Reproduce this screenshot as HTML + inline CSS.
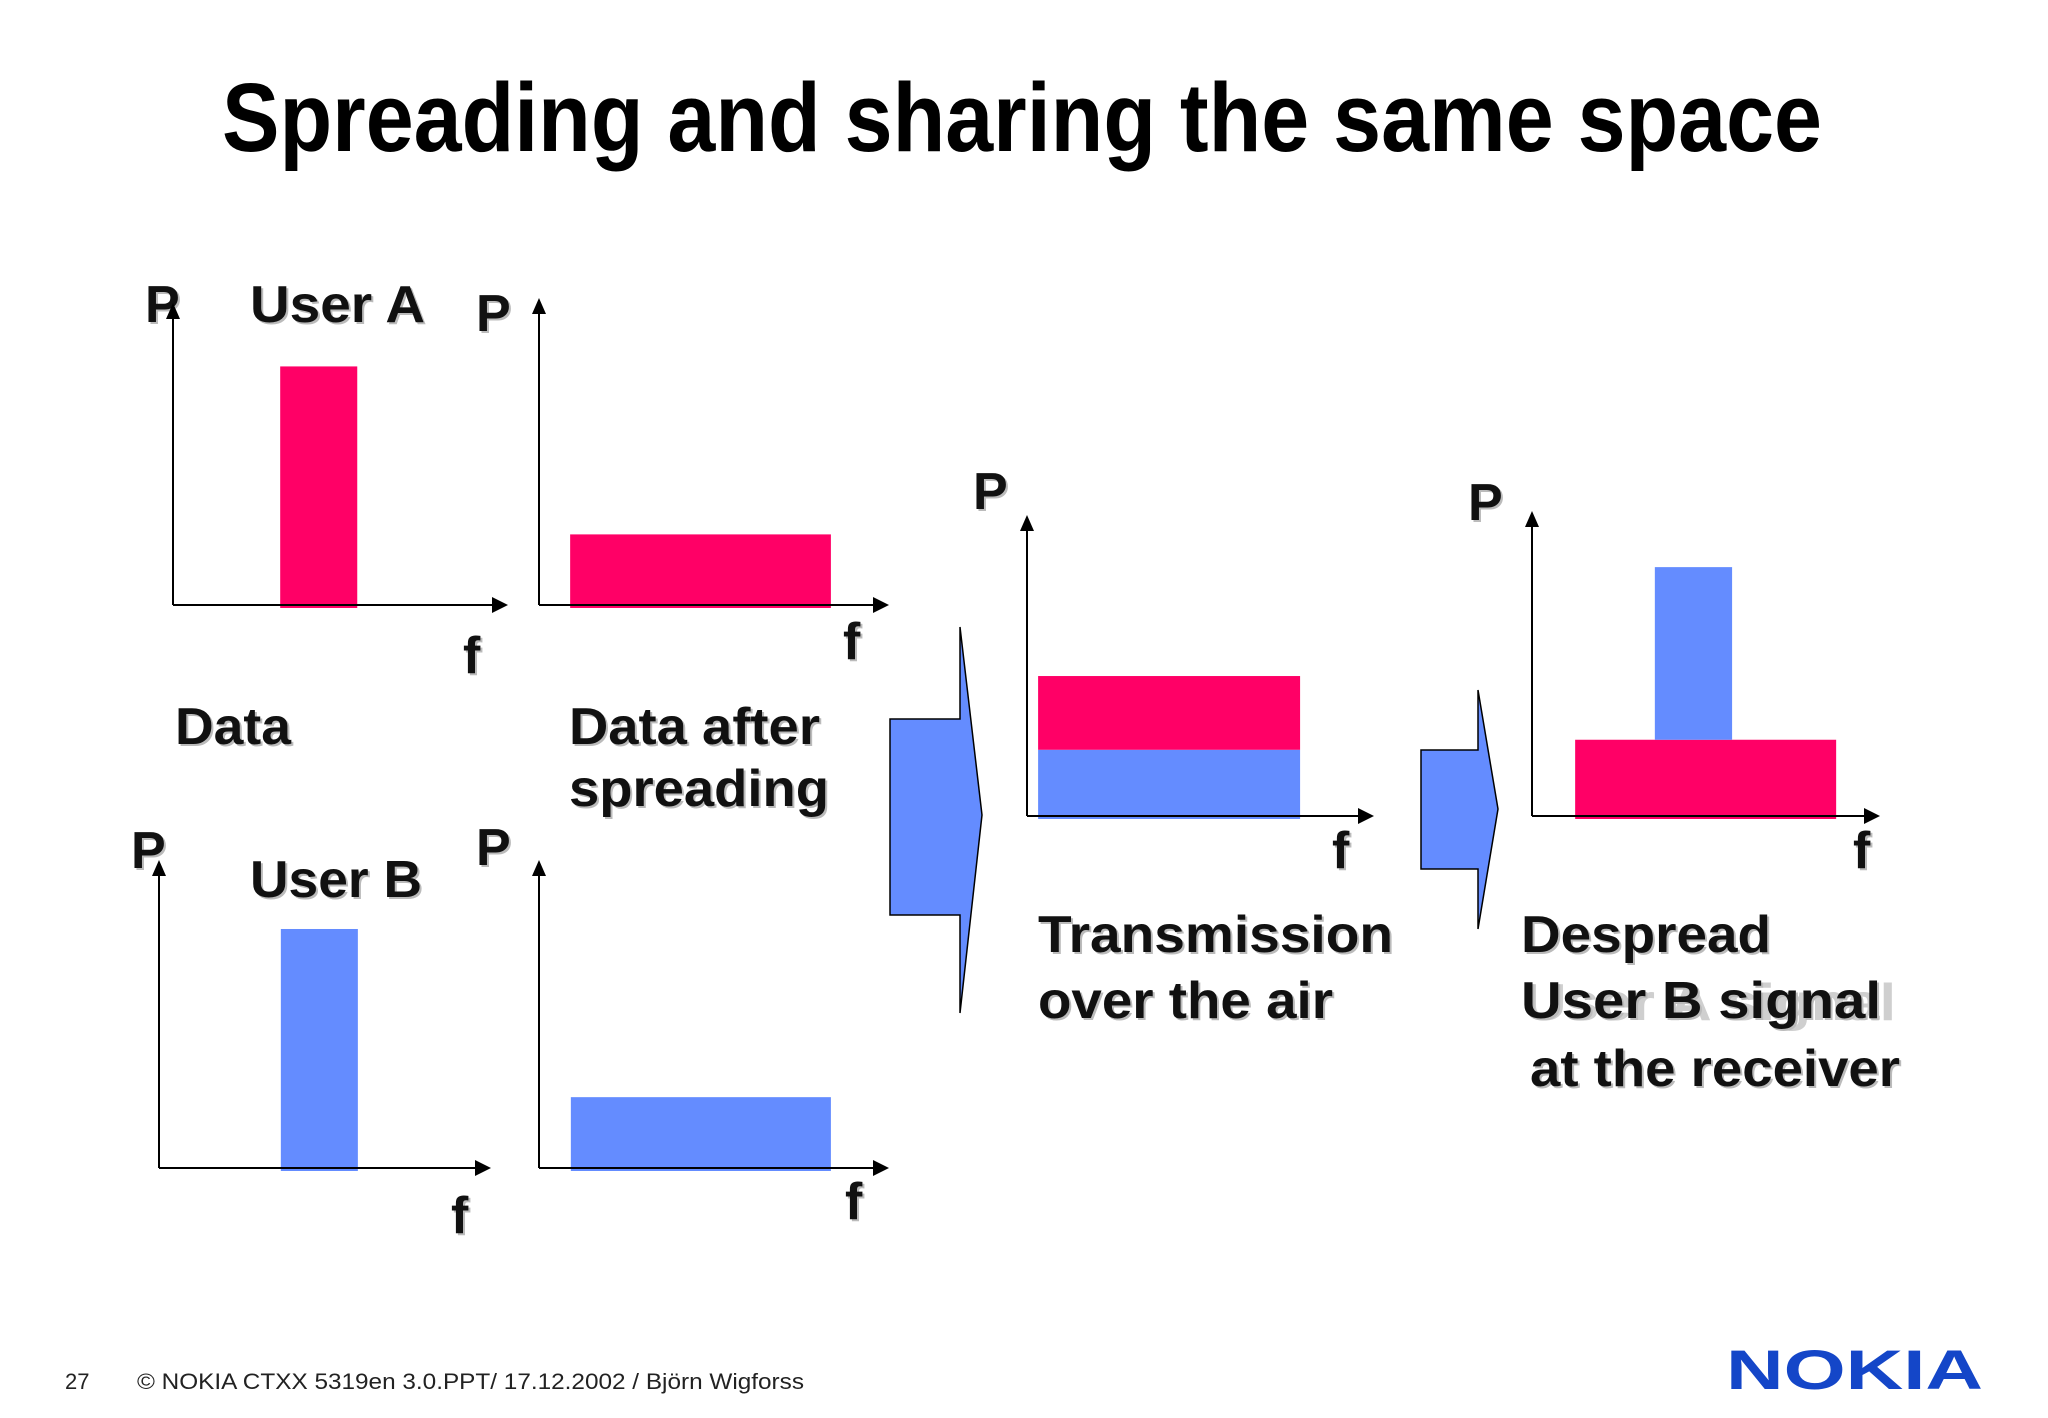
<!DOCTYPE html>
<html><head><meta charset="utf-8"><style>
html,body{margin:0;padding:0;background:#fff;}
svg{display:block;}
text{font-family:"Liberation Sans",Arial,sans-serif;}
</style></head><body>
<svg id="s" width="2048" height="1418" viewBox="0 0 2048 1418">
<rect x="0" y="0" width="2048" height="1418" fill="#fff"/>
<text x="222" y="151" font-size="97" font-weight="bold" textLength="1600" lengthAdjust="spacingAndGlyphs">Spreading and sharing the same space</text>
<text x="1524" y="1020" font-size="52" font-weight="bold" fill="#cfcfcf" textLength="372" lengthAdjust="spacingAndGlyphs">User A signal</text>
<g id="labels" font-weight="bold" font-size="52" fill="#111"></g>
<g id="panels"></g>
<polygon points="890,719 960,719 960,627 982,815 960,1013 960,915 890,915" fill="#648cff" stroke="#000" stroke-width="1.5"/>
<polygon points="1421,750 1478,750 1478,690 1498,809 1478,929 1478,869 1421,869" fill="#648cff" stroke="#000" stroke-width="1.5"/>
<text x="65" y="1389" font-size="22" fill="#222">27</text>
<text x="137" y="1389" font-size="22" fill="#222" textLength="667" lengthAdjust="spacingAndGlyphs">© NOKIA   CTXX 5319en 3.0.PPT/ 17.12.2002 / Björn Wigforss</text>
<text x="1726" y="1389" font-size="56" font-weight="bold" fill="#1446c8" textLength="257" lengthAdjust="spacingAndGlyphs">NOKIA</text>
</svg>
<script>
const NS='http://www.w3.org/2000/svg';
// chart data: each panel f domain 0-10, P domain 0-10
const panelNames=['user-a-data','user-a-spread','user-b-data','user-b-spread','transmission','despread'];
const barPanel=[0,1,2,3,4,4,5,5];
const barF0=[3.2,0.89,3.67,0.91,0.32,0.32,1.24,3.53];
const barF1=[5.5,8.34,5.99,8.34,7.87,7.87,8.74,5.75];
const barP0=[0,0,0,0,0,2.2,0,2.5];
const barP1=[7.9,2.3,7.76,2.3,2.2,4.65,2.5,8.16];
const barUser=['A','A','B','B','B','A','A','B'];
// layout
const layout=[
 {ox:173,oy:605,xe:508,yt:303},
 {ox:539,oy:605,xe:889,yt:298},
 {ox:159,oy:1168,xe:491,yt:860},
 {ox:539,oy:1168,xe:889,yt:860},
 {ox:1027,oy:816,xe:1374,yt:515},
 {ox:1532,oy:816,xe:1880,yt:511}];
const colors={A:'#ff0066',B:'#648cff'};
const pg=document.getElementById('panels');
function xs(p,v){const L=layout[p];return L.ox+(L.xe-L.ox)*v/10;}
function ys(p,v){const L=layout[p];return L.oy-(L.oy-L.yt)*v/10;}
function mk(tag,attrs,parent){const e=document.createElementNS(NS,tag);for(const k in attrs)e.setAttribute(k,attrs[k]);parent.appendChild(e);return e;}
for(let i=0;i<barPanel.length;i++){
 const p=barPanel[i];
 const x0=xs(p,barF0[i]),x1=xs(p,barF1[i]),y0=ys(p,barP0[i]),y1=ys(p,barP1[i]);
 const r=mk('rect',{x:x0,y:y1,width:x1-x0,height:y0-y1+(barP0[i]===0?3:0),fill:colors[barUser[i]]},pg);
 
 
}
layout.forEach((L,i)=>{
 const g=mk('g',{},pg);
 
 
 mk('line',{x1:L.ox,y1:L.oy,x2:L.xe-12,y2:L.oy,stroke:'#000','stroke-width':2},g);
 mk('line',{x1:L.ox,y1:L.oy,x2:L.ox,y2:L.yt+12,stroke:'#000','stroke-width':2},g);
 mk('polygon',{points:`${L.xe},${L.oy} ${L.xe-16},${L.oy-8} ${L.xe-16},${L.oy+8}`,fill:'#000'},g);
 mk('polygon',{points:`${L.ox},${L.yt} ${L.ox-7},${L.yt+16} ${L.ox+7},${L.yt+16}`,fill:'#000'},g);
});
const labelText=['P','User A','P','f','f','Data','Data after','spreading','P','User B','P','f','f','P','f','Transmission','over the air','P','f','Despread','User B signal','at the receiver'];
const labelNames=['p-label','user-a-title','p-label','f-label','f-label','data-caption','data-after-caption','spreading-caption','p-label','user-b-title','p-label','f-label','f-label','p-label','f-label','transmission-caption','over-the-air-caption','p-label','f-label','despread-caption','user-b-signal-caption','receiver-caption'];
const lx=[145,250,476,463,843,175,569,569,131,250,476,451,845,973,1332,1038,1038,1468,1853,1521,1521,1530];
const ly=[322,322,331,673,659,744,744,806,868,897,865,1233,1219,509,868,952,1018,520,868,952,1018,1086];
const lw=[0,175,0,0,0,116,251,260,0,172,0,0,0,0,0,355,295,0,0,250,360,370];
const lg=document.getElementById('labels');
labelText.forEach((t,i)=>{
 const sh=mk('text',{x:lx[i]+2,y:ly[i]+2,fill:'#bbb'},lg);
 sh.textContent=t;
 
 
 const e=mk('text',{x:lx[i],y:ly[i]},lg);
 e.textContent=t;
 
 
 if(lw[i]){[sh,e].forEach(n=>{n.setAttribute('textLength',lw[i]);n.setAttribute('lengthAdjust','spacingAndGlyphs');});}
});
</script>
</body></html>
